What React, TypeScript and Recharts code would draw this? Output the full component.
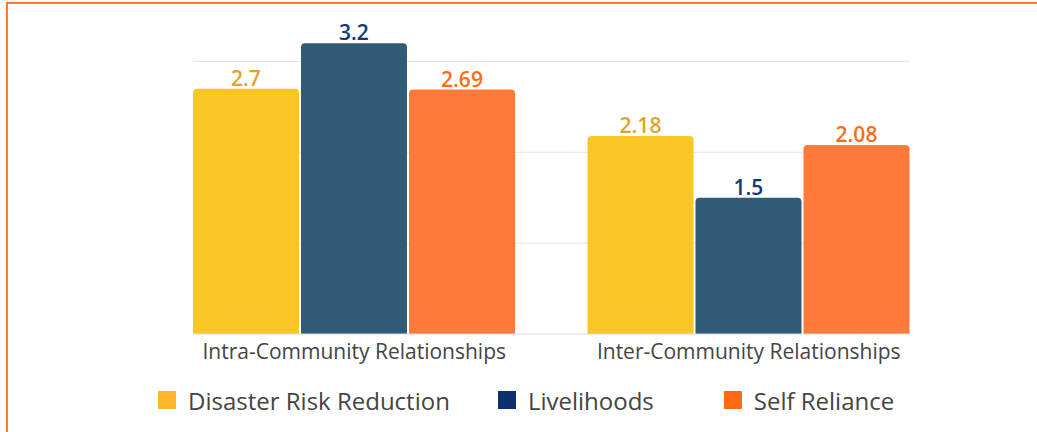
import { Bar, BarChart, CartesianGrid, LabelList, Legend, XAxis, YAxis } from "recharts";

const categories = ["Intra-Community Relationships", "Inter-Community Relationships"];
const disasterRiskReduction = [2.7, 2.18];
const livelihoods = [3.2, 1.5];
const selfReliance = [2.69, 2.08];
const yTicks = [0, 1, 2, 3];
const gridValues = [1, 2, 3];

const series = [
  { key: "drr", name: "Disaster Risk Reduction", fill: "#F9C623", label: "#E1A429", swatch: "#FDB52A" },
  { key: "liv", name: "Livelihoods", fill: "#2F5B77", label: "#0E3A75", swatch: "#0B306E" },
  { key: "sr", name: "Self Reliance", fill: "#FE7A3A", label: "#FF6C17", swatch: "#FF6A13" },
];

const chartData = categories.map((name, i) => ({
  name,
  drr: disasterRiskReduction[i],
  liv: livelihoods[i],
  sr: selfReliance[i],
}));

const FONT = "'Open Sans', 'Noto Sans', sans-serif";

function LegendContent() {
  const gaps = [0, 48, 70];
  return (
    <div style={{ height: 44, display: "flex", alignItems: "center", paddingLeft: 158, fontFamily: FONT }}>
      {series.map((s, i) => (
        <div key={s.key} style={{ display: "flex", alignItems: "center", marginLeft: gaps[i] }}>
          <span style={{ width: 18, height: 18, background: s.swatch, display: "inline-block", marginRight: 12 }} />
          <span style={{ fontSize: 24, color: "#444" }}>{s.name}</span>
        </div>
      ))}
    </div>
  );
}

export default function App() {
  return (
    <div style={{ position: "absolute", left: 0, top: 0, width: 1037, height: 432, background: "#fff" }}>
      <div
        style={{
          position: "absolute",
          left: 6,
          top: 2,
          right: 0,
          bottom: 0,
          borderTop: "2px solid #FF7A2F",
          borderLeft: "2px solid #FF7A2F",
        }}
      />
      <BarChart
        width={1037}
        height={432}
        data={chartData}
        margin={{ top: 16, left: 193, right: 127, bottom: 24 }}
        barGap={2}
        barCategoryGap={36}
        style={{ position: "absolute", left: 0, top: 0, fontFamily: FONT }}
      >
        <CartesianGrid vertical={false} stroke="#e6e6e6" horizontalValues={gridValues} />
        <XAxis
          dataKey="name"
          padding={{ left: -36, right: -36 }}
          height={30}
          tickLine={false}
          axisLine={{ stroke: "#dcdcdc" }}
          tickMargin={4}
          tick={{ fill: "#444", fontSize: 21, fontFamily: FONT }}
        />
        <YAxis hide domain={[0, 3.5]} ticks={yTicks} />
        <Legend verticalAlign="bottom" content={<LegendContent />} wrapperStyle={{ left: 0, width: 1037, bottom: 10 }} />
        {series.map((s) => (
          <Bar key={s.key} dataKey={s.key} name={s.name} fill={s.fill} radius={[4, 4, 0, 0]} isAnimationActive={false}>
            <LabelList dataKey={s.key} position="top" offset={3} fill={s.label} fontSize={21} fontWeight={600} fontFamily={FONT} />
          </Bar>
        ))}
      </BarChart>
    </div>
  );
}
